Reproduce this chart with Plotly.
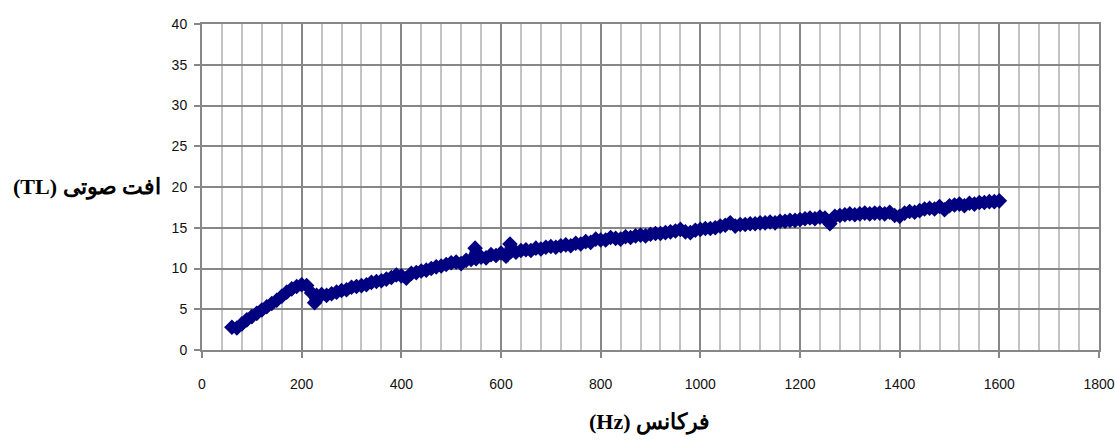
import plotly.graph_objects as go

# Frequencies (Hz) sampled every 10 Hz from 60 to 1600
freq_hz = list(range(60, 1601, 10))

# Transmission loss (dB)
tl_db = [
    2.8, 2.7, 3.2, 3.7, 4.1, 4.5, 4.9, 5.3, 5.7, 6.1,          # 60-150
    6.6, 7.1, 7.5, 7.8, 8.0, 7.9, 7.0, 6.7, 6.8, 6.7,          # 160-250
    6.9, 7.1, 7.3, 7.4, 7.7, 7.8, 7.9, 8.0, 8.3, 8.4,          # 260-350
    8.5, 8.7, 8.9, 9.2, 9.1, 8.8, 9.4, 9.5, 9.7, 9.8,          # 360-450
    10.0, 10.2, 10.3, 10.5, 10.7, 10.8, 10.6, 11.0, 11.1, 11.2,  # 460-550
    11.4, 11.3, 11.7, 11.6, 11.9, 11.5, 12.1, 12.0, 12.2, 12.3,  # 560-650
    12.2, 12.5, 12.4, 12.6, 12.7, 12.6, 12.8, 12.9, 12.8, 13.1,  # 660-750
    13.0, 13.3, 13.2, 13.6, 13.5, 13.5, 13.8, 13.7, 13.6, 13.9,  # 760-850
    13.8, 14.0, 14.1, 14.0, 14.2, 14.3, 14.3, 14.4, 14.5, 14.6,  # 860-950
    14.8, 14.5, 14.4, 14.7, 14.8, 14.9, 14.9, 15.0, 15.2, 15.3,  # 960-1050
    15.6, 15.2, 15.4, 15.4, 15.5, 15.5, 15.6, 15.6, 15.7, 15.6,  # 1060-1150
    15.8, 15.8, 15.9, 15.9, 16.0, 16.1, 16.2, 16.1, 16.3, 16.2,  # 1160-1250
    15.5, 16.4, 16.5, 16.6, 16.7, 16.6, 16.7, 16.8, 16.7, 16.8,  # 1260-1350
    16.8, 16.7, 16.9, 16.5, 16.4, 16.8, 17.0, 16.9, 17.1, 17.3,  # 1360-1450
    17.4, 17.3, 17.6, 17.2, 17.7, 17.8, 17.9, 17.7, 18.0, 17.9,  # 1460-1550
    18.1, 18.1, 18.2, 18.2, 18.3,                               # 1560-1600
]

# Isolated outlier readings
outlier_freq_hz = [226, 548, 618]
outlier_tl_db = [5.8, 12.5, 13.0]

x_ticks = [0, 200, 400, 600, 800, 1000, 1200, 1400, 1600, 1800]
y_ticks = [0, 5, 10, 15, 20, 25, 30, 35, 40]

pairs = sorted(zip(freq_hz + outlier_freq_hz, tl_db + outlier_tl_db))
xs = [p[0] for p in pairs]
ys = [p[1] for p in pairs]

MAJOR = "#878787"
MINOR = "#c3c3c3"
NAVY = "#000080"

fig = go.Figure()
fig.add_trace(go.Scatter(
    x=xs, y=ys, mode="lines+markers",
    line=dict(color=NAVY, width=8),
    marker=dict(symbol="diamond", size=12, color=NAVY, line=dict(width=0)),
    showlegend=False, hoverinfo="x+y",
))

tick_font = dict(family="Liberation Sans, Arial, sans-serif", size=14, color="#111111")

fig.update_xaxes(
    range=[0, 1800], tickvals=x_ticks, ticktext=[str(v) for v in x_ticks],
    showgrid=True, gridcolor=MAJOR, gridwidth=2,
    minor=dict(dtick=40, tick0=0, showgrid=True, gridcolor=MINOR, gridwidth=2, ticks=""),
    showline=True, linecolor=MAJOR, linewidth=2, mirror=True,
    ticks="outside", ticklen=6, tickwidth=2, tickcolor=MAJOR,
    ticklabelstandoff=14, tickfont=tick_font, zeroline=False, automargin=False,
)
fig.update_yaxes(
    range=[0, 40], tickvals=y_ticks, ticktext=[str(v) for v in y_ticks],
    showgrid=True, gridcolor=MAJOR, gridwidth=2,
    showline=True, linecolor=MAJOR, linewidth=2, mirror=True,
    ticks="outside", ticklen=6, tickwidth=2, tickcolor=MAJOR,
    ticklabelstandoff=4, tickfont=tick_font, zeroline=False, automargin=False,
)

title_font = dict(family="Liberation Serif, Times New Roman, DejaVu Serif, serif", size=22, color="#000000")

fig.add_annotation(
    text="<b>(TL) افت صوتی</b>", xref="paper", yref="paper",
    x=-0.0435, y=0.5, xanchor="right", yanchor="middle",
    showarrow=False, font=title_font,
)
fig.add_annotation(
    text="<b>(Hz) فرکانس</b>", xref="paper", yref="paper",
    x=0.4994, y=-0.222, xanchor="center", yanchor="middle",
    showarrow=False, font=title_font,
)

fig.update_layout(
    width=1115, height=440,
    margin=dict(l=202, r=16, t=24, b=90),
    plot_bgcolor="#ffffff", paper_bgcolor="#ffffff",
)

fig.write_html(
    "out.html",
    config={"displayModeBar": False},
    post_script="document.body.style.margin='0';document.body.style.overflow='hidden';",
)
